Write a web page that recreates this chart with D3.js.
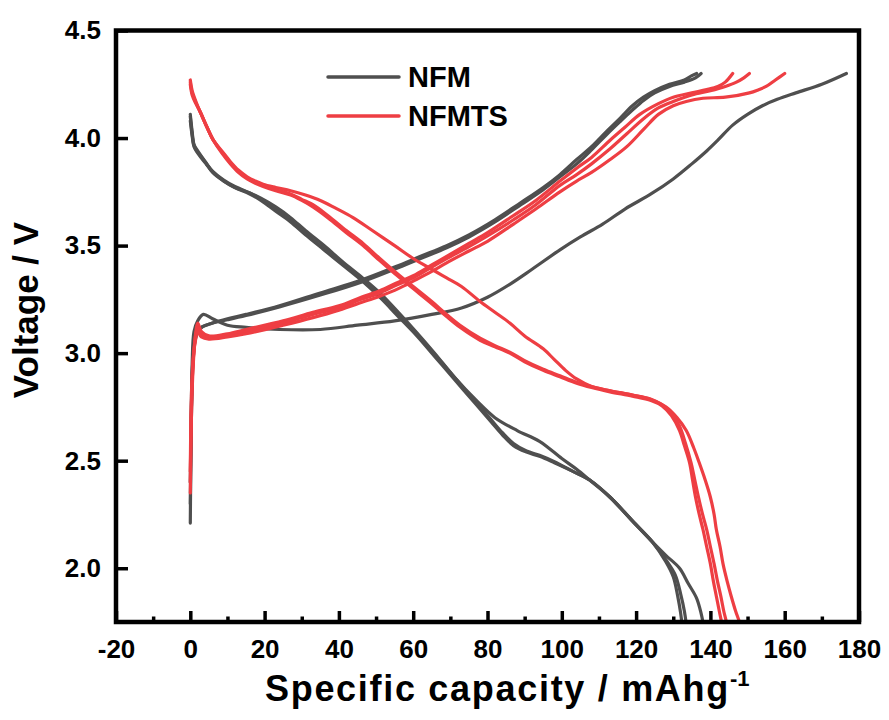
<!DOCTYPE html>
<html>
<head>
<meta charset="utf-8">
<script src="https://cdn.jsdelivr.net/npm/d3@7"></script>
<style>
  html, body { margin: 0; padding: 0; background: #fff; }
  svg { display: block; font-family: Arial, "Liberation Sans", Helvetica, sans-serif; }
</style>
</head>
<body>
<div id="chart"></div>
<script>
// Galvanostatic charge/discharge profiles, first three cycles of each cathode.
// Points are [specific capacity (mAh/g), voltage (V)].

const xTicks = [-20, 0, 20, 40, 60, 80, 100, 120, 140, 160, 180];
const xMinorTicks = [-10, 10, 30, 50, 70, 90, 110, 130, 150, 170];
const yTicks = [2.0, 2.5, 3.0, 3.5, 4.0, 4.5];

const seriesNames = ["NFM", "NFMTS"];

// NFM – charge
const nfmCharge1 = [[0,2.21],[0.2,2.6],[0.5,2.95],[1,3.1],[2,3.15],[3.5,3.18],[6,3.16],[10,3.13],[15,3.12],[24,3.11],[35,3.11],[45,3.13],[55,3.15],[65,3.18],[73,3.21],[80,3.26],[86,3.32],[92,3.39],[99.5,3.48],[105,3.54],[111,3.6],[117,3.67],[124,3.74],[130,3.81],[135,3.88],[139,3.94],[142,3.99],[146,4.06],[150,4.11],[154,4.15],[158,4.18],[163,4.21],[170,4.25],[176.6,4.3]];
const nfmCharge2 = [[0,2.3],[0.3,2.7],[0.7,2.95],[1.2,3.05],[2,3.1],[3,3.12],[6,3.14],[10,3.16],[15,3.18],[24,3.22],[35,3.28],[46,3.34],[55,3.4],[62,3.45],[69,3.5],[75,3.55],[82,3.62],[89,3.7],[95,3.77],[99.5,3.83],[104,3.9],[108,3.96],[112,4.03],[115.6,4.09],[119,4.15],[122,4.19],[125,4.22],[129,4.25],[133,4.27],[135,4.29],[136.3,4.3]];
const nfmCharge3 = [[0,2.4],[0.3,2.75],[0.7,2.97],[1.2,3.06],[2,3.1],[3,3.12],[6,3.14],[10,3.155],[15,3.175],[24,3.215],[35,3.27],[46,3.33],[55,3.39],[62,3.44],[69,3.49],[75,3.54],[82,3.61],[89,3.69],[95,3.76],[99.5,3.82],[104,3.88],[108,3.945],[112,4.015],[115.6,4.075],[119,4.13],[122,4.175],[125,4.21],[129,4.24],[133,4.26],[136,4.28],[137.5,4.3]];

// NFM – discharge
const nfmDischarge1 = [[0,4.11],[0.5,4.03],[1,3.97],[2,3.94],[4,3.89],[6,3.84],[9,3.8],[12,3.77],[16,3.74],[19,3.71],[23,3.66],[27,3.61],[31,3.55],[36,3.48],[41,3.41],[46,3.34],[51,3.26],[56,3.17],[61,3.08],[66,2.98],[71,2.88],[77,2.76],[81,2.68],[84,2.62],[87,2.57],[90.5,2.54],[94,2.52],[98,2.49],[103,2.45],[107.5,2.41],[113,2.33],[119,2.22],[124.5,2.12],[128,2.03],[130,1.96],[131.2,1.87],[132,1.79],[132.6,1.7]];
const nfmDischarge2 = [[0,4.08],[0.5,4.01],[1,3.96],[2,3.93],[4,3.885],[6,3.845],[9,3.805],[12,3.775],[16,3.745],[19,3.715],[23,3.67],[27,3.615],[31,3.555],[36,3.485],[41,3.415],[46,3.345],[51,3.265],[56,3.18],[61,3.09],[66,2.99],[71,2.89],[77,2.77],[81,2.69],[84,2.63],[87,2.58],[90.5,2.545],[94,2.525],[98,2.495],[103,2.45],[107.5,2.41],[113,2.33],[119,2.22],[124.5,2.12],[128,2.04],[130.5,1.97],[132,1.88],[133,1.8],[133.8,1.7]];
const nfmDischarge3 = [[0,4.1],[0.5,4.02],[1,3.965],[2,3.935],[4,3.89],[6,3.845],[9,3.8],[12,3.77],[16,3.745],[19,3.72],[23,3.68],[27,3.63],[31,3.57],[36,3.5],[41,3.425],[46,3.355],[51,3.28],[56,3.19],[61,3.095],[66,2.995],[71,2.89],[77,2.78],[82,2.7],[88,2.64],[94,2.59],[100,2.51],[104,2.46],[107.5,2.41],[113,2.33],[119,2.22],[124.5,2.12],[128,2.06],[131.7,2.0],[134,1.93],[136.3,1.86],[137.5,1.79],[138.3,1.72]];

// NFMTS – charge
const nfmtsCharge1 = [[0,2.35],[0.3,2.7],[0.8,2.95],[1.5,3.1],[2,3.14],[3,3.1],[5,3.08],[10,3.09],[15,3.11],[25,3.15],[33,3.19],[40,3.22],[46,3.26],[51,3.29],[56,3.33],[60,3.36],[65,3.41],[69,3.45],[75,3.51],[80,3.56],[87,3.64],[93,3.71],[99.5,3.8],[104,3.86],[108,3.91],[113,3.99],[117,4.05],[121,4.11],[126,4.16],[130,4.19],[135,4.21],[139,4.225],[142,4.24],[144,4.26],[146,4.3]];
const nfmtsCharge2 = [[0,2.4],[0.3,2.75],[0.8,2.97],[1.5,3.09],[2,3.12],[3,3.09],[5,3.07],[10,3.085],[15,3.1],[25,3.14],[33,3.18],[40,3.21],[46,3.25],[51,3.28],[56,3.32],[60,3.35],[65,3.4],[69,3.44],[75,3.495],[80,3.545],[87,3.62],[93,3.69],[99.5,3.78],[104,3.83],[108,3.88],[113,3.95],[117.5,4.02],[122,4.09],[126,4.14],[130,4.17],[135,4.2],[140,4.22],[144,4.24],[147,4.26],[149,4.28],[150.5,4.3]];
const nfmtsCharge3 = [[0,2.45],[0.3,2.8],[0.8,2.98],[1.5,3.07],[2,3.1],[3,3.075],[5,3.065],[10,3.075],[15,3.09],[25,3.13],[33,3.165],[40,3.2],[46,3.235],[51,3.265],[56,3.3],[60,3.335],[65,3.38],[69,3.42],[75,3.475],[80,3.52],[87,3.6],[93,3.67],[99.5,3.75],[104,3.8],[108,3.84],[113,3.9],[117.5,3.96],[122,4.04],[126,4.11],[130,4.15],[133.5,4.17],[138,4.185],[144,4.19],[150.5,4.21],[153,4.225],[155,4.24],[157.5,4.27],[160,4.3]];

// NFMTS – discharge
const nfmtsDischarge1 = [[0,4.27],[0.5,4.22],[1.5,4.17],[2.7,4.12],[4.5,4.05],[6.2,3.99],[8.5,3.94],[10.8,3.89],[13,3.85],[15.3,3.82],[17.5,3.8],[19.6,3.785],[23,3.77],[27,3.755],[31,3.735],[35,3.71],[39,3.675],[43.8,3.63],[49,3.57],[55,3.5],[60,3.44],[65,3.39],[69,3.35],[73,3.31],[78,3.24],[82,3.19],[86,3.14],[90,3.08],[95,3.02],[98,2.97],[101,2.92],[104,2.88],[108,2.845],[113,2.825],[119,2.805],[124,2.785],[128,2.75],[131,2.7],[133.5,2.64],[135.5,2.56],[137,2.49],[138.6,2.41],[140,2.33],[141,2.25],[141.6,2.18],[142.6,2.1],[143.4,2.02],[144.5,1.94],[145.6,1.87],[146.8,1.8],[147.8,1.75],[148.4,1.7]];
const nfmtsDischarge2 = [[0,4.25],[0.5,4.2],[1.5,4.16],[2.7,4.12],[4.5,4.05],[6.2,3.99],[8.5,3.93],[10.8,3.88],[13,3.84],[15.3,3.81],[17.5,3.79],[19.6,3.775],[23,3.755],[27,3.735],[30,3.71],[33,3.68],[37,3.63],[42,3.56],[46.5,3.5],[51,3.43],[55,3.37],[60,3.3],[65,3.23],[69,3.17],[72.6,3.12],[78,3.06],[82,3.03],[86,3.0],[90,2.96],[95,2.92],[99.5,2.89],[104,2.86],[108,2.84],[113,2.82],[119,2.8],[124,2.78],[127,2.755],[129.5,2.71],[131.7,2.64],[133,2.57],[134.4,2.49],[135.2,2.41],[136,2.33],[137,2.25],[138,2.18],[139,2.1],[140,2.02],[140.8,1.94],[141.6,1.87],[142.4,1.8],[143,1.75],[143.5,1.7]];
const nfmtsDischarge3 = [[0,4.26],[0.5,4.21],[1.5,4.165],[2.7,4.12],[4.5,4.05],[6.2,3.99],[8.5,3.935],[10.8,3.885],[13,3.845],[15.3,3.815],[17.5,3.795],[19.6,3.78],[23,3.76],[27,3.74],[30,3.715],[33,3.69],[37,3.64],[42,3.57],[46.5,3.51],[51,3.44],[55,3.38],[60,3.31],[65,3.24],[69,3.18],[72.6,3.13],[78,3.07],[82,3.035],[86,3.005],[90,2.965],[95,2.925],[99.5,2.895],[104,2.865],[108,2.845],[113,2.825],[119,2.805],[124,2.785],[127,2.76],[129.5,2.72],[131.7,2.66],[133.3,2.58],[134.8,2.49],[135.8,2.41],[136.8,2.33],[137.9,2.25],[139,2.18],[140,2.1],[141,2.02],[141.9,1.94],[142.8,1.87],[143.6,1.8],[144.3,1.75],[144.8,1.7]];

const nfmCurves = [nfmCharge1, nfmCharge2, nfmCharge3, nfmDischarge1, nfmDischarge2, nfmDischarge3];
const nfmtsCurves = [nfmtsCharge1, nfmtsCharge2, nfmtsCharge3, nfmtsDischarge1, nfmtsDischarge2, nfmtsDischarge3];

const colors = { NFM: "#4f4f4f", NFMTS: "#ee3e43" };

const width = 889, height = 720;
const x = d3.scaleLinear().domain([-20, 180]).range([116, 859]);
const y = d3.scaleLinear().domain([1.75, 4.5]).range([622, 30.5]);

const svg = d3.select("#chart").append("svg")
  .attr("width", width).attr("height", height)
  .attr("viewBox", `0 0 ${width} ${height}`);

svg.append("defs").append("clipPath").attr("id", "plot-clip")
  .append("rect")
  .attr("x", x(-20)).attr("y", y(4.5))
  .attr("width", x(180) - x(-20)).attr("height", y(1.75) - y(4.5));

const line = d3.line()
  .x(d => x(d[0])).y(d => y(d[1]))
  .curve(d3.curveCatmullRom.alpha(0.5));

const plot = svg.append("g").attr("clip-path", "url(#plot-clip)");

function drawCurves(curves, color) {
  plot.append("g")
    .selectAll("path")
    .data(curves)
    .join("path")
    .attr("d", line)
    .attr("fill", "none")
    .attr("stroke", color)
    .attr("stroke-width", 3.2)
    .attr("stroke-linejoin", "round")
    .attr("stroke-linecap", "round");
}
drawCurves(nfmCurves, colors.NFM);
drawCurves(nfmtsCurves, colors.NFMTS);

// Axes: inward ticks, bold labels (plain hyphen for negatives)
const xAxis = d3.axisBottom(x).tickValues(xTicks).tickSize(-11).tickPadding(18).tickFormat(d => String(d));
const xMinor = d3.axisBottom(x).tickValues(xMinorTicks).tickSize(-5.5).tickFormat("");
const yAxis = d3.axisLeft(y).tickValues(yTicks).tickSize(-12).tickPadding(15).tickFormat(d3.format(".1f"));

function styleAxis(g) {
  g.select(".domain").remove();
  g.selectAll(".tick line").attr("stroke", "#000").attr("stroke-width", 3.5);
  g.selectAll(".tick text")
    .attr("fill", "#000")
    .style("font-size", "26px")
    .style("font-weight", "bold")
    .style("font-family", "Arial, 'Liberation Sans', sans-serif");
}

svg.append("g").attr("transform", `translate(0,${y(1.75)})`).call(xAxis).call(styleAxis);
svg.append("g").attr("transform", `translate(0,${y(1.75)})`).call(xMinor).call(styleAxis);
svg.append("g").attr("transform", `translate(${x(-20)},0)`).call(yAxis).call(styleAxis);

// Frame
svg.append("rect")
  .attr("x", x(-20)).attr("y", y(4.5))
  .attr("width", x(180) - x(-20)).attr("height", y(1.75) - y(4.5))
  .attr("fill", "none").attr("stroke", "#000").attr("stroke-width", 4.5);

// Axis titles
const xTitle = svg.append("text")
  .attr("x", 265).attr("y", 701)
  .attr("text-anchor", "start")
  .style("font-size", "36px").style("font-weight", "bold")
  .style("letter-spacing", "1.7px")
  .text("Specific capacity / mAhg");
xTitle.append("tspan")
  .attr("dy", -15).style("font-size", "22px").style("letter-spacing", "0px")
  .text("-1");

svg.append("text")
  .attr("transform", "translate(38,310) rotate(-90)")
  .attr("text-anchor", "middle")
  .style("font-size", "35px").style("font-weight", "bold")
  .text("Voltage / V");

// Legend
const legend = svg.append("g");
seriesNames.forEach((name, i) => {
  const ly = 77 + i * 39;
  legend.append("line")
    .attr("x1", 328).attr("x2", 399).attr("y1", ly).attr("y2", ly)
    .attr("stroke", colors[name]).attr("stroke-width", 3.5).attr("stroke-linecap", "round");
  legend.append("text")
    .attr("x", 408).attr("y", ly).attr("dy", "0.36em")
    .style("font-size", "29px").style("font-weight", "bold")
    .text(name);
});
</script>
</body>
</html>
